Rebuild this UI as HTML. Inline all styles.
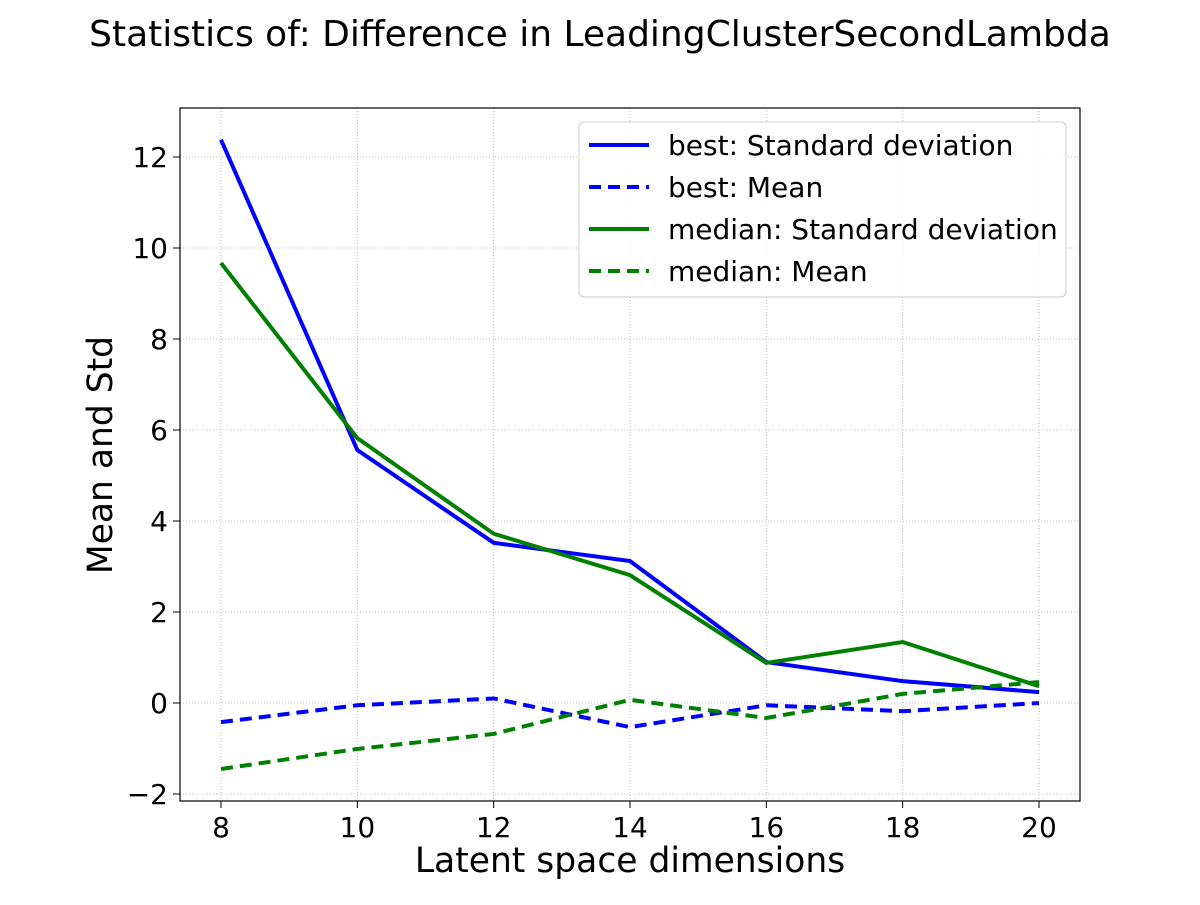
<!DOCTYPE html>
<html><head><meta charset="utf-8"><style>
body{margin:0;background:#fff;}
svg{font-family:"DejaVu Sans","Liberation Sans",sans-serif;}
</style></head><body>
<svg id="chart" width="1200" height="900">
<text x="600" y="46" font-size="36" text-anchor="middle">Statistics of: Difference in LeadingClusterSecondLambda</text>
<g id="grid"></g><g id="series"></g><g id="axes"></g>
<rect x="180" y="108" width="900" height="693" fill="none" stroke="#000" stroke-width="1.2"/>
<text x="630" y="872" font-size="34.5" text-anchor="middle">Latent space dimensions</text>
<text transform="translate(112,455) rotate(-90)" font-size="34.5" text-anchor="middle">Mean and Std</text>
<g id="legend">
<rect x="579" y="122" width="487" height="175" rx="5" fill="#fff" fill-opacity="0.85" stroke="#ccc"/>
</g>
</svg>
<script>
const dims=[8,10,12,14,16,18,20];
const bestStd=[12.38,5.56,3.52,3.12,0.9,0.48,0.24];
const bestMean=[-0.42,-0.05,0.1,-0.53,-0.05,-0.18,0.0];
const medianStd=[9.67,5.82,3.72,2.81,0.88,1.34,0.37];
const medianMean=[-1.45,-1.01,-0.68,0.07,-0.33,0.2,0.46];
const xTicks=[8,10,12,14,16,18,20];
const yTicks=[-2,0,2,4,6,8,10,12];
const legendLabels=["best: Standard deviation","best: Mean","median: Standard deviation","median: Mean"];
const NS="http://www.w3.org/2000/svg";
const xs=v=>221+(v-8)*(1039-221)/12;
const ys=v=>703-v*45.5;
function mk(t,a,p){const e=document.createElementNS(NS,t);for(const k in a)e.setAttribute(k,a[k]);p.appendChild(e);return e;}
const grid=document.getElementById('grid'),axes=document.getElementById('axes'),ser=document.getElementById('series'),leg=document.getElementById('legend');
xTicks.forEach(t=>{const x=xs(t);
const g=mk('line',{x1:x,x2:x,y1:108,y2:801,stroke:'#b0b0b0','stroke-width':0.8,'stroke-dasharray':'1,2'},grid);


const tk=mk('line',{x1:x,x2:x,y1:801,y2:808,stroke:'#000'},axes);


const l=mk('text',{x:x,y:837,'font-size':28,'text-anchor':'middle'},axes);l.textContent=t;

});
yTicks.forEach(t=>{const y=ys(t);
const g=mk('line',{x1:180,x2:1080,y1:y,y2:y,stroke:'#b0b0b0','stroke-width':0.8,'stroke-dasharray':'1,2'},grid);


const tk=mk('line',{x1:173,x2:180,y1:y,y2:y,stroke:'#000'},axes);


const l=mk('text',{x:168,y:y+10,'font-size':28,'text-anchor':'end'},axes);l.textContent=t<0?'\u2212'+(-t):t;

});
const defs=[[bestStd,'#0000ff',null,'best-std-line'],[bestMean,'#0000ff','12,7','best-mean-line'],[medianStd,'#008000',null,'median-std-line'],[medianMean,'#008000','12,7','median-mean-line']];
defs.forEach(([d,c,da,n],i)=>{
const p=mk('polyline',{points:d.map((v,j)=>xs(dims[j])+','+ys(v)).join(' '),fill:'none',stroke:c,'stroke-width':4},ser);
if(da)p.setAttribute('stroke-dasharray',da);


const y=145+i*42;
const ll=mk('line',{x1:589,x2:649,y1:y,y2:y,stroke:c,'stroke-width':4},leg);
if(da)ll.setAttribute('stroke-dasharray',da);


const t=mk('text',{x:668,y:y+10,'font-size':28},leg);t.textContent=legendLabels[i];


});
</script>
</body></html>
